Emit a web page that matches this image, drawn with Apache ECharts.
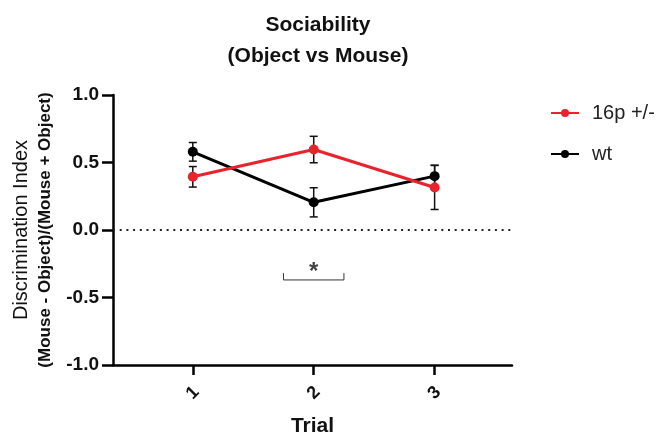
<!DOCTYPE html>
<html><head><meta charset="utf-8">
<script src="https://cdn.jsdelivr.net/npm/echarts@6/dist/echarts.min.js"></script>
<style>html,body{margin:0;padding:0;background:#fff}#c{width:662px;height:437px}</style>
</head><body><div id="c"></div>
<script>
var trials = [1, 2, 3];
var trialLabels = ['1', '2', '3'];
var yTicks = [-1.0, -0.5, 0.0, 0.5, 1.0];
var mut = [0.394, 0.596, 0.315];
var mutErr = [0.076, 0.098, 0.163];
var wt = [0.579, 0.205, 0.399];
var wtErr = [0.069, 0.108, 0.081];
var sigX = [1.75, 2.25];
var sigY = [-0.32, -0.37];
var sigStarPos = [2, -0.255];

var RED = '#e8232b';
var FONT = 'Liberation Sans, Arial, sans-serif';

function pairs(xs, ys) { return xs.map(function (x, i) { return [x, ys[i]]; }); }
function errData(xs, ys, es) { return xs.map(function (x, i) { return [x, ys[i] - es[i], ys[i] + es[i]]; }); }

function errRender(params, api) {
  var x = api.value(0), lo = api.value(1), hi = api.value(2);
  var pLo = api.coord([x, lo]), pHi = api.coord([x, hi]);
  var w = 4;
  var st = { stroke: '#111', lineWidth: 1.5 };
  return { type: 'group', children: [
    { type: 'line', shape: { x1: pLo[0], y1: pLo[1], x2: pHi[0], y2: pHi[1] }, style: st },
    { type: 'line', shape: { x1: pLo[0] - w, y1: pLo[1], x2: pLo[0] + w, y2: pLo[1] }, style: st },
    { type: 'line', shape: { x1: pHi[0] - w, y1: pHi[1], x2: pHi[0] + w, y2: pHi[1] }, style: st }
  ]};
}

var chart = echarts.init(document.getElementById('c'));
chart.setOption({
  animation: false,
  backgroundColor: '#fff',
  title: {
    text: 'Sociability\n(Object vs Mouse)',
    left: 313, top: 5, textAlign: 'center',
    textStyle: { fontFamily: FONT, fontWeight: 'bold', fontSize: 21, color: '#111', lineHeight: 31 }
  },
  legend: {
    data: ['16p +/-', 'wt'],
    orient: 'vertical', left: 545, top: 98,
    itemWidth: 28, itemHeight: 10, itemGap: 21,
    textStyle: { fontFamily: FONT, fontSize: 20, color: '#222', padding: [0, 0, 0, 8] }
  },
  grid: { left: 113, right: 150, top: 95, bottom: 72, containLabel: false, outerBoundsMode: 'none' },
  xAxis: {
    type: 'value', min: 0.34, max: 3.64,
    name: 'Trial', nameLocation: 'middle', nameGap: 51,
    nameTextStyle: { fontFamily: FONT, fontWeight: 'bold', fontSize: 21, color: '#111' },
    axisLine: { onZero: false, lineStyle: { color: '#000', width: 2.5 } },
    axisTick: { show: true, customValues: trials, length: 10, lineStyle: { color: '#000', width: 2.5 } },
    axisLabel: {
      customValues: trials, rotate: 45, margin: 28, align: 'center', verticalAlign: 'middle',
      fontFamily: FONT, fontWeight: 'bold', fontSize: 18, color: '#111',
      formatter: function (v) { var i = trials.indexOf(v); return i >= 0 ? trialLabels[i] : ''; }
    },
    splitLine: { show: false }
  },
  yAxis: {
    type: 'value', min: -1, max: 1, interval: 0.5,
    name: '{a|Discrimination Index}\n{b|(Mouse - Object)/(Mouse + Object)}',
    nameLocation: 'middle', nameGap: 56,
    nameTextStyle: {
      color: '#111',
      rich: {
        a: { fontFamily: FONT, fontWeight: 'normal', fontSize: 20, color: '#111', lineHeight: 25, align: 'center' },
        b: { fontFamily: FONT, fontWeight: 'bold', fontSize: 17, color: '#111', lineHeight: 23, align: 'center' }
      }
    },
    axisLine: { show: true, lineStyle: { color: '#000', width: 2.5 } },
    axisTick: { show: true, length: 11, lineStyle: { color: '#000', width: 2.5 } },
    axisLabel: {
      customValues: yTicks, margin: 14,
      fontFamily: FONT, fontWeight: 'bold', fontSize: 19, color: '#111',
      formatter: function (v) { return v.toFixed(1); }
    },
    splitLine: { show: false }
  },
  series: [
    {
      name: 'zero', type: 'line', data: [], silent: true,
      markLine: {
        silent: true, symbol: 'none', label: { show: false },
        lineStyle: { type: [2, 4.7], color: '#222', width: 2 },
        data: [{ yAxis: 0 }]
      }
    },
    { name: 'errWt', type: 'custom', renderItem: errRender, data: errData(trials, wt, wtErr), z: 2, silent: true },
    { name: 'errMut', type: 'custom', renderItem: errRender, data: errData(trials, mut, mutErr), z: 2, silent: true },
    {
      name: 'wt', type: 'line', data: pairs(trials, wt), z: 3,
      symbol: 'circle', symbolSize: 10,
      itemStyle: { color: '#000' }, lineStyle: { color: '#000', width: 3 }
    },
    {
      name: '16p +/-', type: 'line', data: pairs(trials, mut), z: 4,
      symbol: 'circle', symbolSize: 10,
      itemStyle: { color: RED }, lineStyle: { color: RED, width: 3 }
    },
    {
      name: 'sig', type: 'line', silent: true, z: 3,
      data: [[sigX[0], sigY[0]], [sigX[0], sigY[1]], [sigX[1], sigY[1]], [sigX[1], sigY[0]]],
      symbol: 'none', lineStyle: { color: '#333', width: 1 }
    },
    {
      name: 'star', type: 'scatter', silent: true, symbolSize: 0,
      data: [sigStarPos],
      label: { show: true, position: 'inside', offset: [0, 8], formatter: '*', fontFamily: FONT, fontWeight: 'bold', fontSize: 24, color: '#111' }
    }
  ]
});
</script></body></html>
